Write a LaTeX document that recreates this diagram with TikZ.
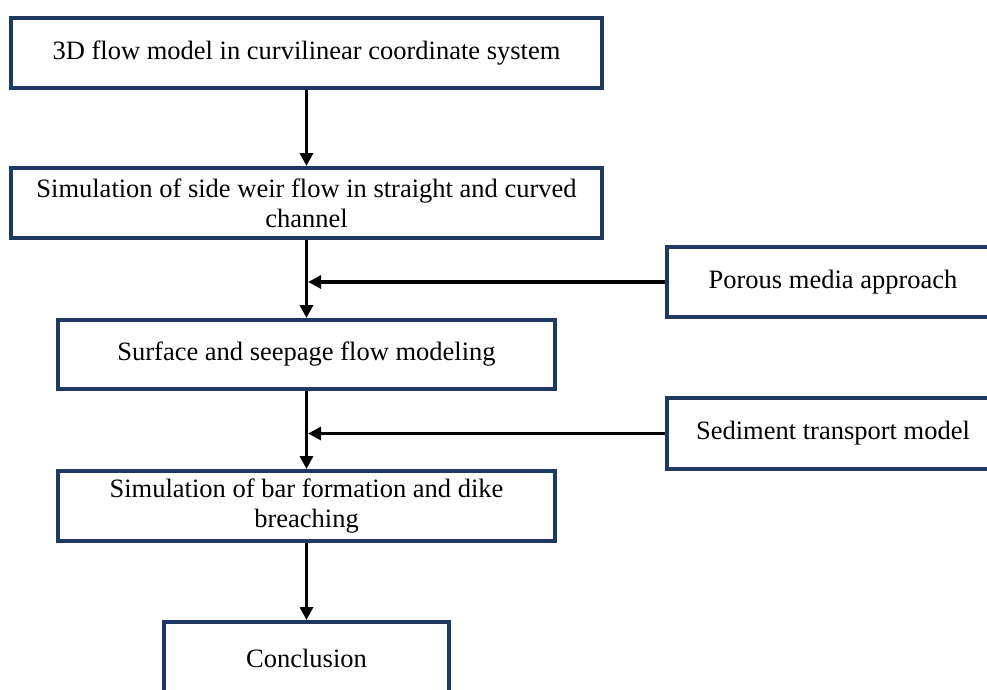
\documentclass[tikz,border=0pt]{standalone}
\usepackage{fontspec}
\setmainfont{Liberation Serif}
\usetikzlibrary{arrows.meta}
\definecolor{boxnavy}{HTML}{1F3864}
\begin{document}
\begin{tikzpicture}[x=1pt,y=-1pt,
  box/.style={draw=boxnavy,line width=4pt,fill=white,inner sep=0pt,align=center,
    font=\fontsize{26.5}{30}\selectfont,text=black},
  flow/.style={line width=3.2pt,draw=black,-{Triangle[length=13pt,width=13pt]}},
  feed/.style={line width=3.2pt,draw=black,-{Triangle[length=13pt,width=13pt]}}]
\useasboundingbox (0,0) rectangle (987,689);
\begin{scope}
\clip (0,0) rectangle (987,689);
\node[box,minimum width=591pt,minimum height=70pt] (b1) at (306.5,53) {3D flow model in curvilinear coordinate system};
\node[box,minimum width=591pt,minimum height=70pt] (b2) at (306.5,203) {Simulation of side weir flow in straight and curved\\channel};
\node[box,minimum width=332pt,minimum height=70pt] (b3) at (833,282) {Porous media approach};
\node[box,minimum width=497pt,minimum height=69pt] (b4) at (306.5,354.5) {Surface and seepage flow modeling};
\node[box,minimum width=332pt,minimum height=71pt] (b5) at (833,433.5) {Sediment transport model};
\node[box,minimum width=497pt,minimum height=70pt] (b6) at (306.5,506) {Simulation of bar formation and dike\\breaching};
\node[box,minimum width=285pt,minimum height=72pt] (b7) at (306.5,658) {Conclusion};
\coordinate (j1) at (b2.south |- b3.west);
\coordinate (j2) at (b4.south |- b5.west);
\draw[flow] (b1.south) -- (b2.north);
\draw[flow] (b2.south) -- (b4.north);
\draw[flow] (b4.south) -- (b6.north);
\draw[flow] (b6.south) -- (b7.north);
\draw[feed] (b3.west) -- ([xshift=1.6pt]j1);
\draw[feed] (b5.west) -- ([xshift=1.6pt]j2);
\end{scope}
\end{tikzpicture}
\end{document}
